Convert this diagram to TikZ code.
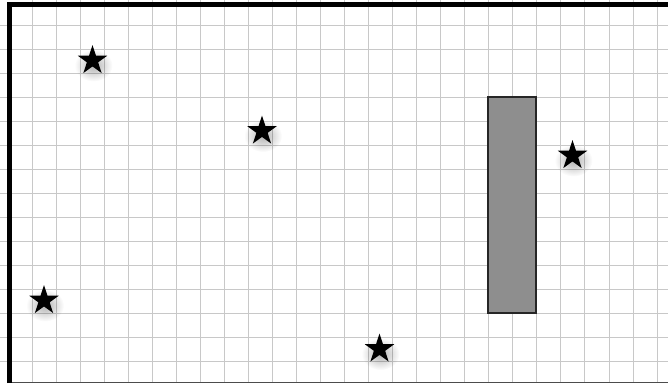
\documentclass[tikz,border=0pt]{standalone}
\usetikzlibrary{shapes.geometric,fadings}
\definecolor{gridgray}{HTML}{C8C8C8}
\definecolor{boxgray}{HTML}{8E8E8E}
\tikzfading[name=softglow, inner color=transparent!0, outer color=transparent!100]
\tikzset{
  starmark/.style={star, star points=5, star point ratio=2.618, minimum size=31pt,
    inner sep=0pt, fill=black, draw=none},
  starshadow/.style={fill=black, fill opacity=0.3, path fading=softglow},
  gridline/.style={draw=gridgray, line width=1pt},
  frameline/.style={draw=black, line width=5pt},
  wall/.style={draw=black!85, line width=1.8pt, fill=boxgray}
}
\begin{document}
\begin{tikzpicture}[x=1pt,y=-1pt]
\useasboundingbox (0,0) rectangle (668,383);
\fill[white] (0,0) rectangle (668,383);
% grid
\foreach \k in {1,...,27}{
  \draw[gridline] ({8+24.04*\k},0) -- ({8+24.04*\k},383);
}
\foreach \k in {1,...,15}{
  \draw[gridline] (0,{1+24.04*\k}) -- (668,{1+24.04*\k});
}
% frame
\draw[draw=black!70, line width=1.2pt] (7,382.4) -- (668,382.4);
\draw[frameline] (9.5,383) -- (9.5,4.5) -- (668,4.5);
% obstacle
\node[wall, minimum width=48pt, minimum height=216pt, inner sep=0pt] (box) at (512,205) {};
% stars
\foreach \n/\x/\y in {s1/92.5/60.5, s2/262/131, s3/572.5/155.5, s4/44/300.5, s5/379.5/349}{
  \fill[starshadow] (\x+1,\y+5) ellipse (19pt and 16pt);
  \node[starmark] (\n) at (\x,\y) {};
}
\end{tikzpicture}
\end{document}
